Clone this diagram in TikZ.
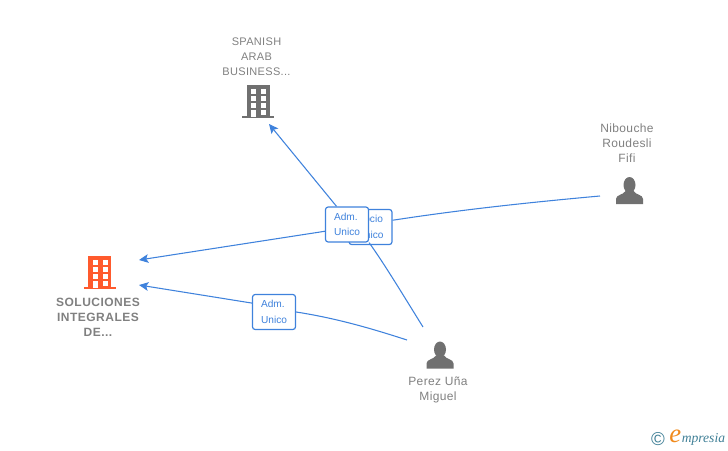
\documentclass[tikz,border=0pt]{standalone}
\usepackage{fontspec}
\usetikzlibrary{arrows.meta}
\setmainfont{Liberation Sans}
\newfontfamily\boldspaced[LetterSpace=4]{Liberation Sans Bold}
\newfontfamily\namespaced[LetterSpace=3]{Liberation Sans}
\newfontfamily\logofont{Liberation Serif Italic}
\newlength{\du}
\setlength{\du}{0.75pt}
\definecolor{linkblue}{HTML}{3F82DC}
\definecolor{labelgrey}{HTML}{808080}
\definecolor{icongrey}{HTML}{707070}
\definecolor{companyred}{HTML}{FF5A2D}
\definecolor{logoteal}{HTML}{3F7F96}
\definecolor{logoorange}{HTML}{F08A1D}
\tikzset{
  link/.style={draw=linkblue,line width=0.8pt},
  linkend/.style={link,-{Stealth[length=7pt,width=6.5pt,inset=1.5pt]}},
  rolebox/.style={draw=linkblue,fill=white,line width=0.9pt,rounded corners=2pt,
    minimum width=43\du,minimum height=35\du,inner sep=0pt,align=left,
    text=linkblue,font=\fontsize{7.6pt}{11.6pt}\selectfont},
  namelabel/.style={align=center,text=labelgrey,inner sep=0pt,
    font=\fontsize{9pt}{11.25pt}\namespaced},
  capslabel/.style={namelabel,font=\fontsize{8.25pt}{11.25pt}\namespaced},
  companylabel/.style={align=center,text=labelgrey,inner sep=0pt,
    font=\fontsize{9pt}{11.25pt}\boldspaced},
}
% building, centre of the base at #1,#2
\newcommand{\buildingicon}[3]{
\begin{scope}[shift={(#1,#2)}]
\fill[#3] (-11.5,-33) rectangle (11.5,0);
\fill[#3] (-16,-2) rectangle (16,0.5);
\foreach \wy in {-29,-22,-15}{
  \fill[white] (-7,\wy) rectangle (-2,\wy+5);
  \fill[white] (3,\wy) rectangle (8,\wy+5);
}
\fill[white] (-7,-8) rectangle (-2,-1);
\fill[white] (3,-8) rectangle (8,-3);
\end{scope}
}
% person, centre of the base at #1,#2
\newcommand{\personicon}[2]{
\begin{scope}[shift={(#1,#2)}]
\fill[icongrey] (0,-19) ellipse (6 and 8);
\fill[icongrey] (-13.5,0) -- (-13.5,-5) .. controls (-13.5,-9.5) and (-6,-9) .. (-4,-13)
  -- (4,-13) .. controls (6,-9) and (13.5,-9.5) .. (13.5,-5) -- (13.5,0) -- cycle;
\end{scope}
}
\begin{document}
\begin{tikzpicture}[x=\du,y=-\du]
\useasboundingbox (0,0) rectangle (728,450);
\coordinate (spanishTip) at (269,124);
\coordinate (solucionesTipA) at (139,260);
\coordinate (solucionesTipB) at (139,285);
\coordinate (perezNorth) at (423,327);
\coordinate (perezWest) at (407,340);
\coordinate (nibWest) at (600,196);
% role boxes
\node[rolebox] (socioNib) at (370.5,227) {Socio\\Unico};
\draw[link] (nibWest) .. controls (500,205) and (440,213) .. (socioNib.17);
\node[rolebox] (admSpanish) at (347,224.5) {Adm.\\Unico};
\node[rolebox] (admSoluciones) at (274,312) {Adm.\\Unico};
% connectors
\draw[link] (perezNorth) .. controls (400,290) and (385,265) .. (admSpanish.south east);
\draw[linkend] (admSpanish.120) -- (spanishTip);
\draw[linkend] (admSpanish.197) -- (solucionesTipA);
\draw[link] (perezWest) .. controls (370,328) and (335,318) .. (admSoluciones.east);
\draw[linkend] (admSoluciones.158) -- (solucionesTipB);
% icons
\buildingicon{99.5}{288.5}{companyred}
\buildingicon{258}{117.5}{icongrey}
\personicon{440}{368.5}
\personicon{629.5}{204}
% labels
\node[capslabel] (spanishName) at (256.5,56.5) {SPANISH\\ARAB\\BUSINESS...};
\node[companylabel] (solucionesName) at (98,317) {SOLUCIONES\\INTEGRALES\\DE...};
\node[namelabel] (perezName) at (438,390) {Perez Uña\\Miguel};
\node[namelabel] (nibName) at (627,143) {Nibouche\\Roudesli\\Fifi};
% logo
\node[inner sep=0pt,text=logoteal,font=\fontsize{14pt}{14pt}\selectfont] (logoCopy) at (658,439) {©};
\node[inner sep=0pt,anchor=base west,text=logoteal,font=\fontsize{10.2pt}{11pt}\logofont] (logoName) at (681.5,442) {mpresia};
\node[inner sep=0pt,anchor=base east,text=logoorange,font=\fontsize{20pt}{20pt}\logofont] (logoE) at (logoName.base west) {e};
\end{tikzpicture}
\end{document}
